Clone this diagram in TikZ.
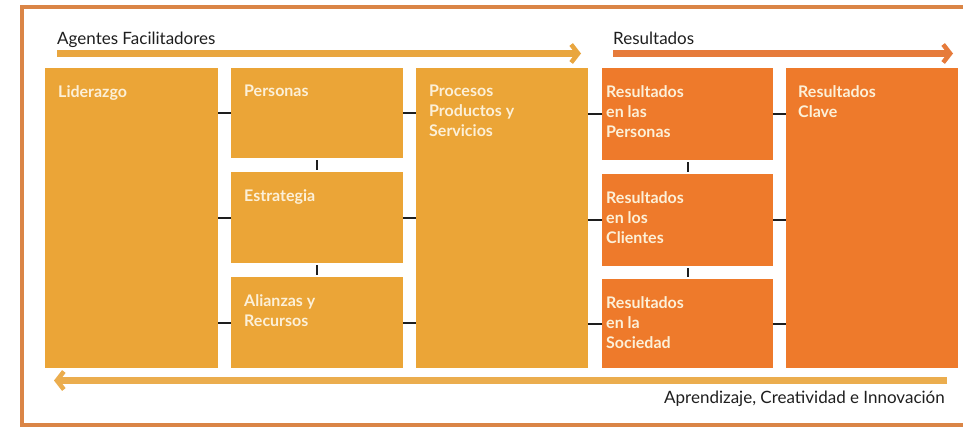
\documentclass[tikz,border=0pt]{standalone}
\usepackage{fontspec}
\setmainfont{Lato}
\usetikzlibrary{arrows.meta}
\definecolor{gold}{HTML}{EBA537}
\definecolor{goldarrow}{HTML}{E9A63F}
\definecolor{org}{HTML}{EE7A2B}
\definecolor{orgarrow}{HTML}{E67B3B}
\definecolor{framecol}{HTML}{DA8546}
\definecolor{cream}{HTML}{FCF0D8}
\definecolor{ink}{HTML}{1E1E1E}
\begin{document}
\begin{tikzpicture}[x=1pt,y=-1pt,
  gbox/.style={fill=gold, draw=none, anchor=north west, inner sep=0pt, minimum width=#1},
  obox/.style={fill=org, draw=none, anchor=north west, inner sep=0pt, minimum width=#1},
  lbl/.style={anchor=north west, inner sep=0pt, align=left, text=cream,
    font=\bfseries\fontsize{16}{20}\selectfont},
  head/.style={anchor=base west, inner sep=0pt, text=ink, font=\fontsize{17}{20}\selectfont},
  flow/.style={line width=7pt, -{Straight Barb[length=7pt,width=18pt,line width=4.5pt]}},
  tick/.style={draw=ink, line width=2.2pt},
  vtick/.style={tick, shorten <=2pt, shorten >=2pt}
]
\useasboundingbox (0,0) rectangle (963,428);
% frame
\draw[framecol, line width=4.5pt] (963,7) -- (22,7) -- (22,425) -- (963,425);

% headings and flow arrows
\node[head] (hAF) at (57,45) {Agentes Facilitadores};
\node[head] (hR) at (613,45) {Resultados};
\coordinate (a1s) at (57,53.5);  \coordinate (a1e) at (581,53.5);
\coordinate (a2s) at (613,53.5); \coordinate (a2e) at (953,53.5);
\coordinate (a3s) at (947,380.5); \coordinate (a3e) at (54,380.5);
\draw[flow, goldarrow] (a1s) -- (a1e);
\draw[flow, orgarrow] (a2s) -- (a2e);
\draw[flow, goldarrow!92!white] (a3s) -- (a3e);
\node[head, anchor=base east] (hACI) at (945,403) {Aprendizaje, Creatividad e Innovación};

% boxes
\node[gbox=173pt, minimum height=300pt] (lid) at (45,68) {};
\node[gbox=172pt, minimum height=90pt] (per) at (231,68) {};
\node[gbox=172pt, minimum height=91pt] (est) at (231,172) {};
\node[gbox=172pt, minimum height=91pt] (ali) at (231,277) {};
\node[gbox=172pt, minimum height=300pt] (pro) at (416,68) {};
\node[obox=171pt, minimum height=92pt] (rpe) at (602,68) {};
\node[obox=171pt, minimum height=92pt] (rcl) at (602,174) {};
\node[obox=171pt, minimum height=89pt] (rso) at (602,279) {};
\node[obox=172pt, minimum height=300pt] (cla) at (786,68) {};

% labels
\node[lbl] at ([xshift=13pt,yshift=-17pt]lid.north west) {Liderazgo};
\node[lbl] at ([xshift=13pt,yshift=-17pt]per.north west) {Personas};
\node[lbl] at ([xshift=13pt,yshift=-17pt]est.north west) {Estrategia};
\node[lbl] at ([xshift=13pt,yshift=-17pt]ali.north west) {Alianzas y\\Recursos};
\node[lbl] at ([xshift=13pt,yshift=-17pt]pro.north west) {Procesos\\Productos y\\Servicios};
\node[lbl] at ([xshift=4pt,yshift=-17pt]rpe.north west) {Resultados\\en las\\Personas};
\node[lbl] at ([xshift=4pt,yshift=-17pt]rcl.north west) {Resultados\\en los\\Clientes};
\node[lbl] at ([xshift=4pt,yshift=-17pt]rso.north west) {Resultados\\en la\\Sociedad};
\node[lbl] at ([xshift=12pt,yshift=-17pt]cla.north west) {Resultados\\Clave};

% connector ticks
\draw[tick] (per.west) -- (per.west -| lid.east);
\draw[tick] (est.west) -- (est.west -| lid.east);
\draw[tick] (ali.west) -- (ali.west -| lid.east);
\draw[tick] (per.east) -- (per.east -| pro.west);
\draw[tick] (est.east) -- (est.east -| pro.west);
\draw[tick] (ali.east) -- (ali.east -| pro.west);
\draw[vtick] (per.south) -- (est.north);
\draw[vtick] (est.south) -- (ali.north);
\draw[tick] (rpe.west) -- (rpe.west -| pro.east);
\draw[tick] (rcl.west) -- (rcl.west -| pro.east);
\draw[tick] (rso.west) -- (rso.west -| pro.east);
\draw[tick] (rpe.east) -- (rpe.east -| cla.west);
\draw[tick] (rcl.east) -- (rcl.east -| cla.west);
\draw[tick] (rso.east) -- (rso.east -| cla.west);
\draw[vtick] (rpe.south) -- (rcl.north);
\draw[vtick] (rcl.south) -- (rso.north);
\end{tikzpicture}
\end{document}
